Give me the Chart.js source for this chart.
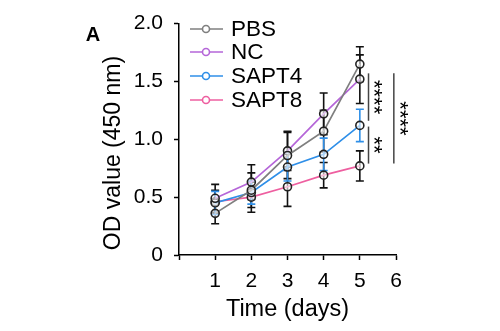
<!DOCTYPE html>
<html>
<head>
<meta charset="utf-8">
<script src="https://cdn.jsdelivr.net/npm/chart.js@4"></script>
<style>
  body { margin: 0; background: #fff; }
  #wrap { width: 500px; height: 331px; position: relative; }
</style>
</head>
<body>
<div id="wrap"><canvas id="chart"></canvas></div>
<script>
// data
const days = [1, 2, 3, 4, 5];
const seriesNames = ['PBS', 'NC', 'SAPT4', 'SAPT8'];
const seriesColors = ['#7f7f7f', '#b566d8', '#2f8fe8', '#ee5fa0'];
const pbs = [0.36, 0.56, 0.86, 1.07, 1.65];
const nc = [0.49, 0.63, 0.90, 1.22, 1.52];
const sapt4 = [0.45, 0.54, 0.76, 0.87, 1.12];
const sapt8 = [0.46, 0.50, 0.59, 0.69, 0.77];
const pbsErr = [0.09, 0.15, 0.20, 0.18, 0.15];
const ncErr = [0.12, 0.15, 0.17, 0.18, 0.21];
const sapt4Err = [0.10, 0.10, 0.12, 0.14, 0.14];
const sapt8Err = [0.10, 0.13, 0.17, 0.11, 0.13];
const xTicks = [1, 2, 3, 4, 5, 6];
const yTicks = [0, 0.5, 1.0, 1.5, 2.0];
// significance brackets: x position (days), y from, y to, label
const sigX = [5.24, 5.24, 5.94];
const sigFrom = [1.57, 1.11, 1.57];
const sigTo = [1.16, 0.79, 0.79];
const sigText = ['****', '**', '****'];

const allValues = [pbs, nc, sapt4, sapt8];
const allErrors = [pbsErr, ncErr, sapt4Err, sapt8Err];
const errColors = ['#111', '#111', '#2f8fe8', '#111'];
const FONT = '"Liberation Sans", Arial, Helvetica, sans-serif';

const datasets = seriesNames.map((name, i) => ({
    label: name,
    data: days.map((d, j) => ({ x: d, y: allValues[i][j] })),
    borderColor: seriesColors[i],
    borderWidth: 1.7,
    pointRadius: 4,
    pointBorderWidth: 1.6,
    pointBorderColor: '#222',
    pointBackgroundColor: 'rgba(255,255,255,0.6)',
    tension: 0
}));

const extras = {
    id: 'extras',
    beforeDatasetsDraw(chart) {
        const ctx = chart.ctx;
        const xs = chart.scales.x, ys = chart.scales.y;
        ctx.save();
        ctx.lineWidth = 1.6;
        // black bars first, blue on top
        const order = [0, 1, 3, 2];
        order.forEach(i => {
            ctx.strokeStyle = errColors[i];
            days.forEach((d, j) => {
                const x = xs.getPixelForValue(d);
                const top = ys.getPixelForValue(allValues[i][j] + allErrors[i][j]);
                const bot = ys.getPixelForValue(allValues[i][j] - allErrors[i][j]);
                ctx.beginPath();
                ctx.moveTo(x, top); ctx.lineTo(x, bot);
                ctx.moveTo(x - 4, top); ctx.lineTo(x + 4, top);
                ctx.moveTo(x - 4, bot); ctx.lineTo(x + 4, bot);
                ctx.stroke();
            });
        });
        ctx.restore();
    },
    afterDraw(chart) {
        const ctx = chart.ctx;
        const xs = chart.scales.x, ys = chart.scales.y;
        ctx.save();
        // panel letter
        ctx.fillStyle = '#000';
        ctx.font = 'bold 20px ' + FONT;
        ctx.textAlign = 'center';
        ctx.textBaseline = 'middle';
        ctx.fillText('A', 93, 35);

        // y axis title
        ctx.save();
        ctx.translate(114, 153);
        ctx.rotate(-Math.PI / 2);
        ctx.font = '23px ' + FONT;
        ctx.fillText('OD value (450 nm)', 0, 0);
        ctx.restore();

        // legend
        const legY = [29, 52, 76, 100];
        seriesNames.forEach((name, i) => {
            const y = legY[i];
            ctx.strokeStyle = seriesColors[i];
            ctx.lineWidth = 1.6;
            ctx.beginPath();
            ctx.moveTo(190, y); ctx.lineTo(223, y);
            ctx.stroke();
            ctx.fillStyle = '#fff';
            ctx.beginPath();
            ctx.arc(206, y, 3.5, 0, Math.PI * 2);
            ctx.fill(); ctx.stroke();
            ctx.fillStyle = '#000';
            ctx.font = '22.5px ' + FONT;
            ctx.textAlign = 'left';
            ctx.fillText(name, 231, y + 1);
        });

        // significance brackets
        ctx.strokeStyle = '#444';
        ctx.lineWidth = 1.5;
        sigX.forEach((sx, k) => {
            const x = xs.getPixelForValue(sx);
            const y1 = ys.getPixelForValue(sigFrom[k]);
            const y2 = ys.getPixelForValue(sigTo[k]);
            ctx.beginPath();
            ctx.moveTo(x, y1); ctx.lineTo(x, y2);
            ctx.stroke();
            ctx.save();
            ctx.translate(x + 5, (y1 + y2) / 2);
            ctx.rotate(Math.PI / 2);
            ctx.fillStyle = '#000';
            ctx.font = '22px ' + FONT;
            ctx.textAlign = 'center';
            ctx.textBaseline = 'middle';
            ctx.fillText(sigText[k], 0, 0);
            ctx.restore();
        });
        ctx.restore();
    }
};

new Chart(document.getElementById('chart'), {
    type: 'line',
    data: { datasets: datasets },
    options: {
        responsive: true,
        maintainAspectRatio: false,
        animation: false,
        layout: { padding: { top: 23, right: 104, left: 0, bottom: 0 } },
        plugins: { legend: { display: false }, tooltip: { enabled: false } },
        scales: {
            x: {
                type: 'linear',
                min: 0, max: 6,
                afterFit: s => { s.height = 76; },
                afterBuildTicks: s => { s.ticks = [0].concat(xTicks).map(v => ({ value: v })); },
                ticks: {
                    callback: v => (v === 0 ? '' : String(v)),
                    color: '#000', font: { family: FONT, size: 21 }, padding: 9, maxRotation: 0
                },
                grid: { drawOnChartArea: false, drawTicks: true, tickLength: 5, tickColor: '#000', tickWidth: 1.5 },
                border: { display: true, color: '#000', width: 1.5 },
                title: { display: true, text: 'Time (days)', color: '#000', font: { family: FONT, size: 23.5 }, padding: { top: 0, bottom: 7 } }
            },
            y: {
                min: 0, max: 2,
                afterFit: s => { s.width = 179; },
                afterBuildTicks: s => { s.ticks = yTicks.map(v => ({ value: v })); },
                ticks: {
                    callback: v => (v === 0 ? '0' : v.toFixed(1)),
                    color: '#000', font: { family: FONT, size: 21 }, padding: 11
                },
                grid: { drawOnChartArea: false, drawTicks: true, tickLength: 5, tickColor: '#000', tickWidth: 1.5 },
                border: { display: true, color: '#000', width: 1.5 }
            }
        }
    },
    plugins: [extras]
});
</script>
</body>
</html>
